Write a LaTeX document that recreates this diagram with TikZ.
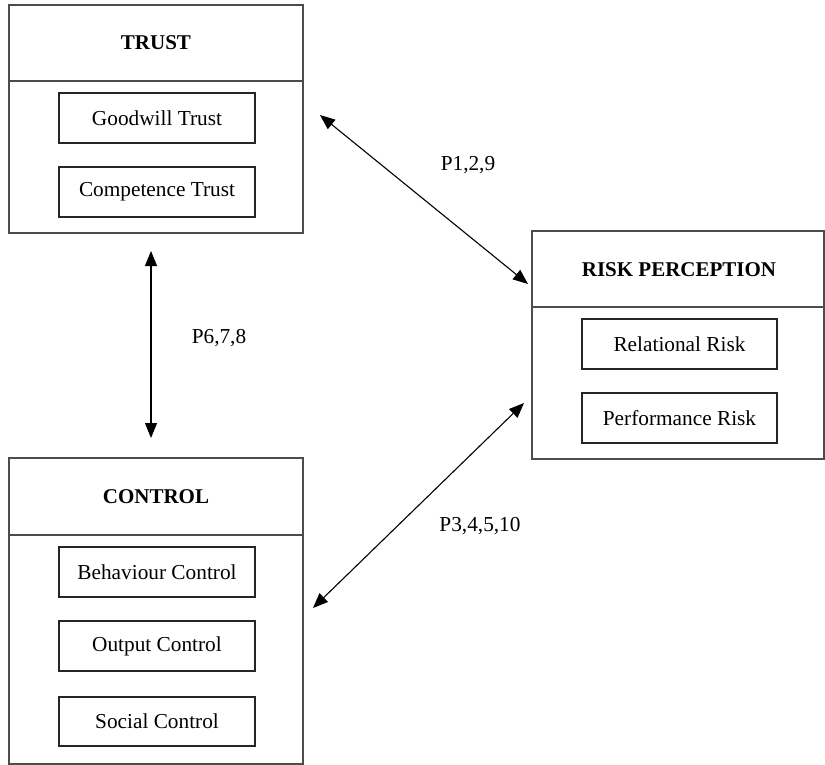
\documentclass[tikz,border=0pt]{standalone}
\usepackage{fontspec}
\setmainfont{Liberation Serif}
\usetikzlibrary{arrows.meta}
\tikzset{
  outerbox/.style={draw=black!70, line width=1.4pt, rectangle, inner sep=0pt},
  innerbox/.style={draw=black!85, line width=1.3pt, rectangle, inner sep=0pt, minimum width=196pt, minimum height=50pt, font=\fontsize{21.3}{25}\selectfont},
  divline/.style={draw=black!70, line width=1.4pt},
  headtxt/.style={font=\fontsize{21}{25}\selectfont\bfseries, inner sep=0pt},
  lbl/.style={font=\fontsize{21.3}{25}\selectfont, inner sep=0pt},
  biarrow/.style={line width=1.1pt, {Triangle[length=15pt,width=12pt]}-{Triangle[length=15pt,width=12pt]}}
}
\begin{document}
\begin{tikzpicture}[x=1pt,y=-1pt]
\useasboundingbox (0,0) rectangle (825,765);
% TRUST
\node[outerbox, minimum width=294pt, minimum height=228pt] (trust) at (156,119) {};
\coordinate (tdl) at (9,81);
\coordinate (tdr) at (303,81);
\draw[divline] (tdl) -- (tdr);
\node[headtxt] (trusth) at (156,43) {TRUST};
\node[innerbox] (goodwill) at (157,118) {Goodwill Trust};
\node[innerbox] (competence) at (157,192) {Competence Trust};
% RISK PERCEPTION
\node[outerbox, minimum width=292pt, minimum height=228pt] (risk) at (678,345) {};
\coordinate (rdl) at (532,307);
\coordinate (rdr) at (824,307);
\draw[divline] (rdl) -- (rdr);
\node[headtxt] (riskh) at (679,270) {RISK PERCEPTION};
\node[innerbox, minimum width=195pt] (relational) at (679.5,344) {Relational Risk};
\node[innerbox, minimum width=195pt] (performance) at (679.5,418) {Performance Risk};
% CONTROL
\node[outerbox, minimum width=294pt, minimum height=306pt] (control) at (156,611) {};
\coordinate (cdl) at (9,535);
\coordinate (cdr) at (303,535);
\draw[divline] (cdl) -- (cdr);
\node[headtxt] (controlh) at (156,497) {CONTROL};
\node[innerbox] (behaviour) at (157,572) {Behaviour Control};
\node[innerbox] (output) at (157,646) {Output Control};
\node[innerbox, minimum height=49pt] (social) at (157,721.5) {Social Control};
% arrows
\coordinate (a1s) at (320,115);
\coordinate (a1e) at (528,284);
\draw[biarrow] (a1s) -- (a1e);
\node[lbl] (l1) at (468,165) {P1,2,9};
\coordinate (a2s) at (151,251);
\coordinate (a2e) at (151,438);
\draw[biarrow] (a2s) -- (a2e);
\node[lbl] (l2) at (219,338) {P6,7,8};
\coordinate (a3s) at (313,608);
\coordinate (a3e) at (524,403);
\draw[biarrow] (a3s) -- (a3e);
\node[lbl] (l3) at (480,526) {P3,4,5,10};
\end{tikzpicture}
\end{document}
